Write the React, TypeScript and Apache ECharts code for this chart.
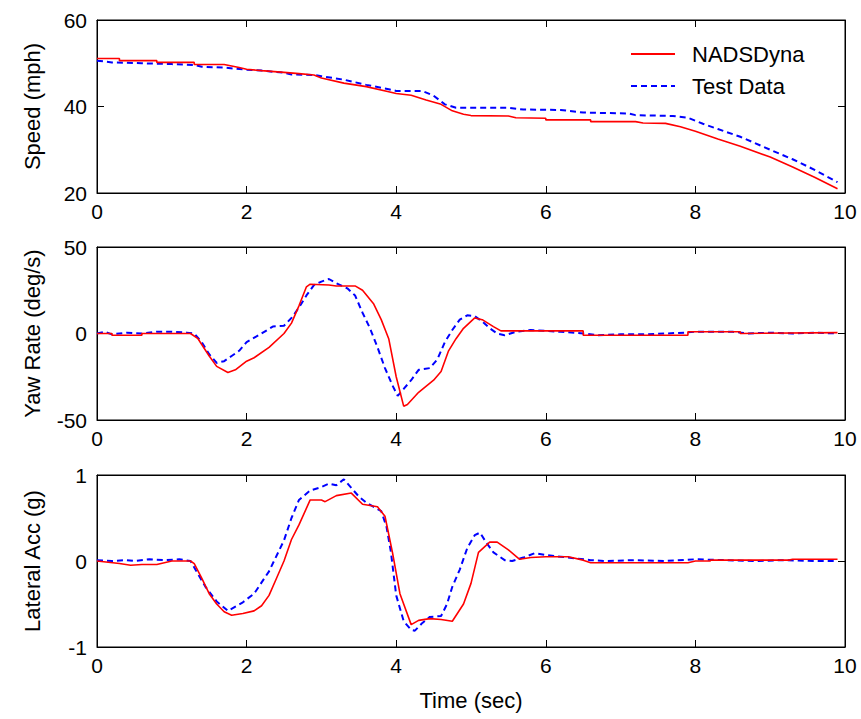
import React, { useEffect, useRef } from "react";
import * as echarts from "echarts";

type Pt = [number, number];

const seriesNames = ["NADSDyna", "Test Data"];
const yNames = ["Speed (mph)", "Yaw Rate (deg/s)", "Lateral Acc (g)"];
const xName = "Time (sec)";
const xTicks = { min: 0, max: 10, interval: 2 };
const yRanges = [
  { min: 20, max: 60, interval: 20 },
  { min: -50, max: 50, interval: 50 },
  { min: -1, max: 1, interval: 1 },
];

const speedNads: Pt[] = [
  [0, 51.1], [0.3, 51.1], [0.3, 50.6], [0.8, 50.6], [0.8, 50.2], [1.3, 50.2], [1.3, 49.7], [1.7, 49.7],
  [1.9, 49], [2.0, 48.6], [2.2, 48.3], [2.5, 47.9], [2.7, 47.6], [2.9, 47.3], [3.0, 46.6], [3.3, 45.4],
  [3.6, 44.6], [3.9, 43.4], [4.0, 43], [4.2, 42.6], [4.4, 41.5], [4.6, 40.5], [4.75, 39], [4.9, 38.2],
  [5.0, 37.9], [5.5, 37.8], [5.6, 37.4], [6.0, 37.3], [6.0, 36.9], [6.6, 36.9], [6.6, 36.5], [7.2, 36.5],
  [7.3, 36.2], [7.6, 36.1], [7.8, 35.3], [8.0, 34.3], [8.3, 32.5], [8.6, 30.8], [9.0, 28.3], [9.3, 26],
  [9.6, 23.6], [9.9, 21],
];
const speedTest: Pt[] = [
  [0, 50.6], [0.2, 50.2], [0.6, 50], [1.0, 49.8], [1.3, 49.6], [1.4, 49.2], [1.7, 49], [2.0, 48.5],
  [2.2, 48.3], [2.5, 47.8], [2.6, 47.4], [2.9, 47.3], [3.0, 47], [3.3, 46.2], [3.6, 45], [3.9, 44],
  [4.0, 43.6], [4.35, 43.6], [4.5, 42.5], [4.65, 40.5], [4.8, 39.7], [5.5, 39.7], [5.7, 39.3], [6.2, 39.2],
  [6.5, 38.6], [7.1, 38.4], [7.2, 38], [7.7, 37.8], [7.9, 37.4], [8.1, 36], [8.3, 34.8], [8.6, 33],
  [9.0, 30], [9.3, 27.8], [9.6, 25.3], [9.9, 22.5],
];
const yawNads: Pt[] = [
  [0, 0], [0.2, 0], [0.2, -1], [0.6, -1], [0.6, 0], [1.25, 0], [1.35, -3], [1.5, -13], [1.6, -19],
  [1.75, -22.5], [1.85, -21], [2.0, -16], [2.1, -14], [2.3, -8], [2.5, 0], [2.6, 6], [2.7, 16], [2.8, 27],
  [2.85, 28.5], [3.1, 28], [3.2, 27.5], [3.45, 27.5], [3.55, 25], [3.7, 17], [3.8, 8], [3.9, -3],
  [4.0, -25], [4.1, -42], [4.15, -41], [4.3, -34], [4.5, -27], [4.6, -22], [4.7, -10], [4.8, -3],
  [4.9, 3], [5.05, 9], [5.15, 8], [5.3, 4], [5.4, 1.5], [6.5, 1.5], [6.5, -1], [7.9, -1], [7.9, 1],
  [8.6, 1], [8.6, 0], [9.9, 0.5],
];
const yawTest: Pt[] = [
  [0, 0], [0.1, 1], [0.2, -0.5], [0.4, 0.5], [0.6, 0], [0.8, 1], [1.0, 1], [1.2, 0.5], [1.3, 0],
  [1.4, -5], [1.5, -12], [1.6, -17], [1.7, -16], [1.8, -13], [1.9, -10], [2.0, -5], [2.2, 0], [2.35, 4],
  [2.5, 4.5], [2.6, 9], [2.7, 15], [2.8, 22], [2.9, 28], [3.0, 30], [3.1, 31.5], [3.2, 29], [3.35, 26],
  [3.45, 22], [3.55, 12], [3.65, 3], [3.75, -8], [3.85, -20], [3.95, -30], [4.02, -36], [4.1, -32],
  [4.2, -27], [4.3, -21], [4.45, -20], [4.55, -15], [4.65, -5], [4.75, 2], [4.85, 8], [4.95, 10.5],
  [5.05, 10], [5.15, 7], [5.25, 3], [5.35, 0], [5.45, -1], [5.6, 1], [5.8, 2], [6.0, 1.5], [6.2, 1],
  [6.5, 0], [6.7, -1], [7.0, -0.5], [7.3, -0.5], [7.6, 0], [7.85, 0.5], [8.0, 1], [8.5, 1], [8.7, 0],
  [9.0, 0.5], [9.3, 0], [9.6, 0.5], [9.9, 0],
];
const latNads: Pt[] = [
  [0, 0], [0.3, -0.03], [0.45, -0.05], [0.6, -0.04], [0.8, -0.04], [0.9, -0.02], [1.0, 0], [1.25, 0],
  [1.3, -0.03], [1.4, -0.2], [1.5, -0.38], [1.6, -0.5], [1.7, -0.59], [1.8, -0.63], [1.95, -0.61],
  [2.1, -0.58], [2.2, -0.52], [2.3, -0.4], [2.4, -0.2], [2.5, 0.0], [2.6, 0.25], [2.7, 0.42], [2.85, 0.71],
  [3.0, 0.71], [3.05, 0.69], [3.2, 0.76], [3.4, 0.79], [3.55, 0.66], [3.75, 0.63], [3.85, 0.52],
  [3.95, 0.1], [4.05, -0.38], [4.2, -0.74], [4.3, -0.69], [4.45, -0.67], [4.6, -0.68], [4.75, -0.7],
  [4.9, -0.5], [5.0, -0.26], [5.1, 0.1], [5.25, 0.22], [5.35, 0.22], [5.5, 0.13], [5.65, 0.02],
  [5.8, 0.04], [6.0, 0.05], [6.3, 0.05], [6.5, 0.01], [6.6, -0.02], [7.9, -0.02], [8.0, 0], [8.2, 0],
  [8.2, 0.01], [9.25, 0.01], [9.3, 0.02], [9.9, 0.02],
];
const latTest: Pt[] = [
  [0, 0.01], [0.2, 0], [0.4, 0.01], [0.5, 0], [0.7, 0.02], [0.9, 0.01], [1.1, 0.02], [1.25, 0],
  [1.35, -0.15], [1.45, -0.3], [1.6, -0.47], [1.75, -0.58], [1.85, -0.53], [1.95, -0.48], [2.1, -0.38],
  [2.3, -0.12], [2.5, 0.24], [2.6, 0.5], [2.7, 0.71], [2.85, 0.82], [3.0, 0.86], [3.1, 0.9], [3.2, 0.88],
  [3.3, 0.95], [3.4, 0.85], [3.5, 0.75], [3.6, 0.68], [3.7, 0.63], [3.8, 0.58], [3.87, 0.4], [3.93, 0.1],
  [4.0, -0.4], [4.1, -0.7], [4.2, -0.8], [4.25, -0.81], [4.35, -0.72], [4.45, -0.65], [4.6, -0.64],
  [4.68, -0.5], [4.75, -0.3], [4.85, -0.1], [4.95, 0.15], [5.05, 0.3], [5.12, 0.33], [5.2, 0.22],
  [5.3, 0.1], [5.45, 0.01], [5.55, 0], [5.7, 0.04], [5.85, 0.09], [6.0, 0.07], [6.2, 0.05], [6.4, 0.03],
  [6.6, 0.01], [6.8, 0], [7.2, 0.01], [7.6, 0], [8.0, 0.02], [8.4, 0.01], [8.8, 0], [9.2, 0.01],
  [9.6, 0], [9.9, 0],
];

const panels: [Pt[], Pt[]][] = [
  [speedNads, speedTest],
  [yawNads, yawTest],
  [latNads, latTest],
];

const FONT = 'Arial, "Liberation Sans", Helvetica, sans-serif';
const gridTops = [20, 247, 475];
const gridHeights = [173, 173, 172];

export default function App() {
  const ref = useRef<HTMLDivElement>(null);
  useEffect(() => {
    if (!ref.current) return;
    const chart = echarts.init(ref.current, undefined, { renderer: "svg" });
    const axisLine = { show: true, onZero: false, lineStyle: { color: "#000", width: 1 } };
    const tick = { show: true, inside: true, length: 7, lineStyle: { color: "#000", width: 1 } };
    const label = { color: "#000", fontSize: 21, fontFamily: FONT };
    const grid: any[] = [];
    const xAxis: any[] = [];
    const yAxis: any[] = [];
    const series: any[] = [];
    panels.forEach((p, i) => {
      grid.push({
        left: 97, right: 16, top: gridTops[i], height: gridHeights[i], containLabel: false,
        show: true, borderColor: "#000", borderWidth: 1, backgroundColor: "transparent",
      });
      xAxis.push({
        type: "value", gridIndex: i, position: "bottom", ...xTicks,
        axisLine, axisTick: tick, splitLine: { show: false },
        axisLabel: { ...label, margin: 8 },
        name: i === 2 ? xName : "", nameLocation: "middle", nameGap: 42,
        nameTextStyle: { color: "#000", fontSize: 22, fontFamily: FONT },
      });
      xAxis.push({
        type: "value", gridIndex: i, position: "top", ...xTicks,
        axisLine, axisTick: tick, splitLine: { show: false }, axisLabel: { show: false },
      });
      yAxis.push({
        type: "value", gridIndex: i, position: "left", ...yRanges[i],
        axisLine, axisTick: tick, splitLine: { show: false },
        axisLabel: { ...label, margin: 10 },
        name: yNames[i], nameLocation: "middle", nameGap: 54,
        nameTextStyle: { color: "#000", fontSize: 22, fontFamily: FONT },
      });
      yAxis.push({
        type: "value", gridIndex: i, position: "right", ...yRanges[i],
        axisLine, axisTick: tick, splitLine: { show: false }, axisLabel: { show: false },
      });
      series.push({
        name: seriesNames[0], type: "line", xAxisIndex: 2 * i, yAxisIndex: 2 * i,
        data: p[0], showSymbol: false, symbol: "none", z: 3,
        lineStyle: { color: "#ff0000", width: 1.6 }, itemStyle: { color: "#ff0000" },
      });
      series.push({
        name: seriesNames[1], type: "line", xAxisIndex: 2 * i, yAxisIndex: 2 * i,
        data: p[1], showSymbol: false, symbol: "none", z: 2,
        lineStyle: { color: "#0000ff", width: 2, type: [6, 4] }, itemStyle: { color: "#0000ff" },
      });
      series.push({
        name: "frame" + i, type: "line", xAxisIndex: 2 * i + 1, yAxisIndex: 2 * i + 1,
        data: [], showSymbol: false, symbol: "none", silent: true,
      });
    });
    chart.setOption({
      animation: false,
      backgroundColor: "#fff",
      grid,
      xAxis,
      yAxis,
      series,
      legend: {
        data: seriesNames,
        orient: "vertical",
        left: 625,
        top: 38,
        itemWidth: 44,
        itemHeight: 14,
        itemGap: 10,
        itemStyle: { opacity: 0 },
        textStyle: { color: "#000", fontSize: 22, fontFamily: FONT, padding: [0, 0, 0, 12] },
      },
    });
    return () => chart.dispose();
  }, []);
  return (
    <div
      ref={ref}
      style={{ position: "fixed", left: 0, top: 0, width: 861, height: 719, background: "#fff" }}
    />
  );
}
